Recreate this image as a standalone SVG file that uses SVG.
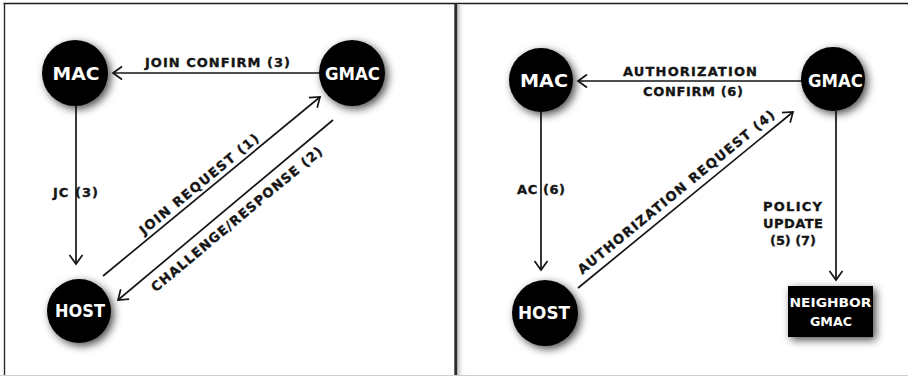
<svg xmlns="http://www.w3.org/2000/svg" width="908" height="377" viewBox="0 0 908 377">
  <defs>
    <style>
      .lbl { font-family: "DejaVu Sans", "Liberation Sans", Arial, sans-serif; font-weight: bold; font-size: 13px; fill: #151515; stroke: #151515; stroke-width: 0.35; }
      .node-txt { font-family: "DejaVu Sans", "Liberation Sans", Arial, sans-serif; font-weight: bold; font-size: 17.5px; fill: #ffffff; text-anchor: middle; }
      .box-txt { font-family: "DejaVu Sans", "Liberation Sans", Arial, sans-serif; font-weight: bold; font-size: 13px; fill: #ffffff; text-anchor: middle; }
      .edge { stroke: #151515; stroke-width: 1.7; fill: none; marker-end: url(#chevron); }
      .mid { text-anchor: middle; }
    </style>
    <!-- open chevron arrowhead -->
    <marker id="chevron" markerUnits="userSpaceOnUse" viewBox="-12 -9 14 18" refX="0" refY="0" markerWidth="14" markerHeight="18" orient="auto">
      <path d="M-9,-6.5 L0,0 L-9,6.5" fill="none" stroke="#151515" stroke-width="1.7" stroke-linejoin="miter"/>
    </marker>
    <!-- soft halo behind the node shapes -->
    <filter id="halo" x="-50%" y="-50%" width="200%" height="200%">
      <feGaussianBlur in="SourceAlpha" stdDeviation="4.5"/>
      <feOffset dx="3" dy="3" result="blur"/>
      <feFlood flood-color="#000" flood-opacity="0.7"/>
      <feComposite in2="blur" operator="in"/>
      <feMerge><feMergeNode/><feMergeNode in="SourceGraphic"/></feMerge>
    </filter>
    <linearGradient id="divShade" x1="0" y1="0" x2="1" y2="0">
      <stop offset="0" stop-color="#b8b8b8"/>
      <stop offset="1" stop-color="#ffffff" stop-opacity="0"/>
    </linearGradient>
  </defs>

  <rect width="908" height="377" fill="#ffffff"/>

  <!-- frame -->
  <g id="frame">
    <line x1="3.5" y1="3.5" x2="908" y2="3.5" stroke="#1a1a1a" stroke-width="1.6"/>
    <line x1="4.5" y1="3" x2="4.5" y2="375" stroke="#2a2a2a" stroke-width="1.4"/>
    <line x1="0" y1="375.5" x2="908" y2="375.5" stroke="#cfcfcf" stroke-width="1.2"/>
    <rect x="457" y="4" width="8" height="371" fill="url(#divShade)"/>
    <rect x="454.3" y="3" width="2.8" height="372" fill="#2b2b2b"/>
  </g>

  <!-- connectors -->
  <g id="connectors">
    <line class="edge" x1="322" y1="73" x2="113" y2="73"/>
    <line class="edge" x1="76" y1="106" x2="76" y2="264"/>
    <line class="edge" x1="103" y1="276" x2="320" y2="97"/>
    <line class="edge" x1="333" y1="120" x2="118" y2="300"/>

    <line class="edge" x1="803" y1="81" x2="578" y2="81"/>
    <line class="edge" x1="541" y1="112" x2="541" y2="270"/>
    <line class="edge" x1="578" y1="288" x2="793" y2="112"/>
    <line class="edge" x1="836" y1="111" x2="836" y2="280"/>

    <text class="lbl mid" x="217.5" y="67" textLength="145" lengthAdjust="spacing">JOIN CONFIRM (3)</text>
    <text class="lbl" x="53" y="197" textLength="45" lengthAdjust="spacing">JC (3)</text>
    <g transform="translate(199,184) rotate(-39.4)">
      <text class="lbl mid" x="0" y="4.7" textLength="150" lengthAdjust="spacing">JOIN REQUEST (1)</text>
    </g>
    <g transform="translate(236.5,219) rotate(-39.8)">
      <text class="lbl mid" x="0" y="4.7" textLength="218" lengthAdjust="spacing">CHALLENGE/RESPONSE (2)</text>
    </g>

    <text class="lbl mid" x="690" y="76" textLength="134" lengthAdjust="spacing">AUTHORIZATION</text>
    <text class="lbl mid" x="693" y="96" textLength="100" lengthAdjust="spacing">CONFIRM (6)</text>
    <text class="lbl" x="517" y="194" textLength="48" lengthAdjust="spacing">AC (6)</text>
    <g transform="translate(676,192) rotate(-39.3)">
      <text class="lbl mid" x="0" y="4.7" textLength="250" lengthAdjust="spacing">AUTHORIZATION REQUEST (4)</text>
    </g>
    <text class="lbl mid" x="792.5" y="211" textLength="59" lengthAdjust="spacing">POLICY</text>
    <text class="lbl mid" x="793" y="228" textLength="60" lengthAdjust="spacing">UPDATE</text>
    <text class="lbl mid" x="793" y="245" textLength="46" lengthAdjust="spacing">(5) (7)</text>
  </g>

  <!-- left panel: join -->
  <g id="join-mac">
    <circle cx="75" cy="73" r="33" fill="#050505" filter="url(#halo)"/>
    <text class="node-txt" x="76" y="79.5" textLength="47" lengthAdjust="spacingAndGlyphs">MAC</text>
  </g>
  <g id="join-gmac">
    <circle cx="352" cy="73" r="33" fill="#050505" filter="url(#halo)"/>
    <text class="node-txt" x="352.5" y="79.5" textLength="55" lengthAdjust="spacingAndGlyphs">GMAC</text>
  </g>
  <g id="join-host">
    <circle cx="79" cy="311" r="32" fill="#050505" filter="url(#halo)"/>
    <text class="node-txt" x="80" y="317" textLength="50" lengthAdjust="spacingAndGlyphs">HOST</text>
  </g>

  <!-- right panel: authorization -->
  <g id="auth-mac">
    <circle cx="541" cy="80" r="32" fill="#050505" filter="url(#halo)"/>
    <text class="node-txt" x="544" y="87" textLength="48" lengthAdjust="spacingAndGlyphs">MAC</text>
  </g>
  <g id="auth-gmac">
    <circle cx="833" cy="79" r="32" fill="#050505" filter="url(#halo)"/>
    <text class="node-txt" x="835.5" y="87" textLength="55" lengthAdjust="spacingAndGlyphs">GMAC</text>
  </g>
  <g id="auth-host">
    <circle cx="545" cy="313" r="33" fill="#050505" filter="url(#halo)"/>
    <text class="node-txt" x="544" y="319" textLength="52" lengthAdjust="spacingAndGlyphs">HOST</text>
  </g>
  <g id="neighbor-gmac">
    <rect x="788" y="286" width="85" height="51" fill="#050505" filter="url(#halo)"/>
    <text class="box-txt" x="830.5" y="307" textLength="82" lengthAdjust="spacingAndGlyphs">NEIGHBOR</text>
    <text class="box-txt" x="831" y="326" textLength="42" lengthAdjust="spacingAndGlyphs">GMAC</text>
  </g>
</svg>
